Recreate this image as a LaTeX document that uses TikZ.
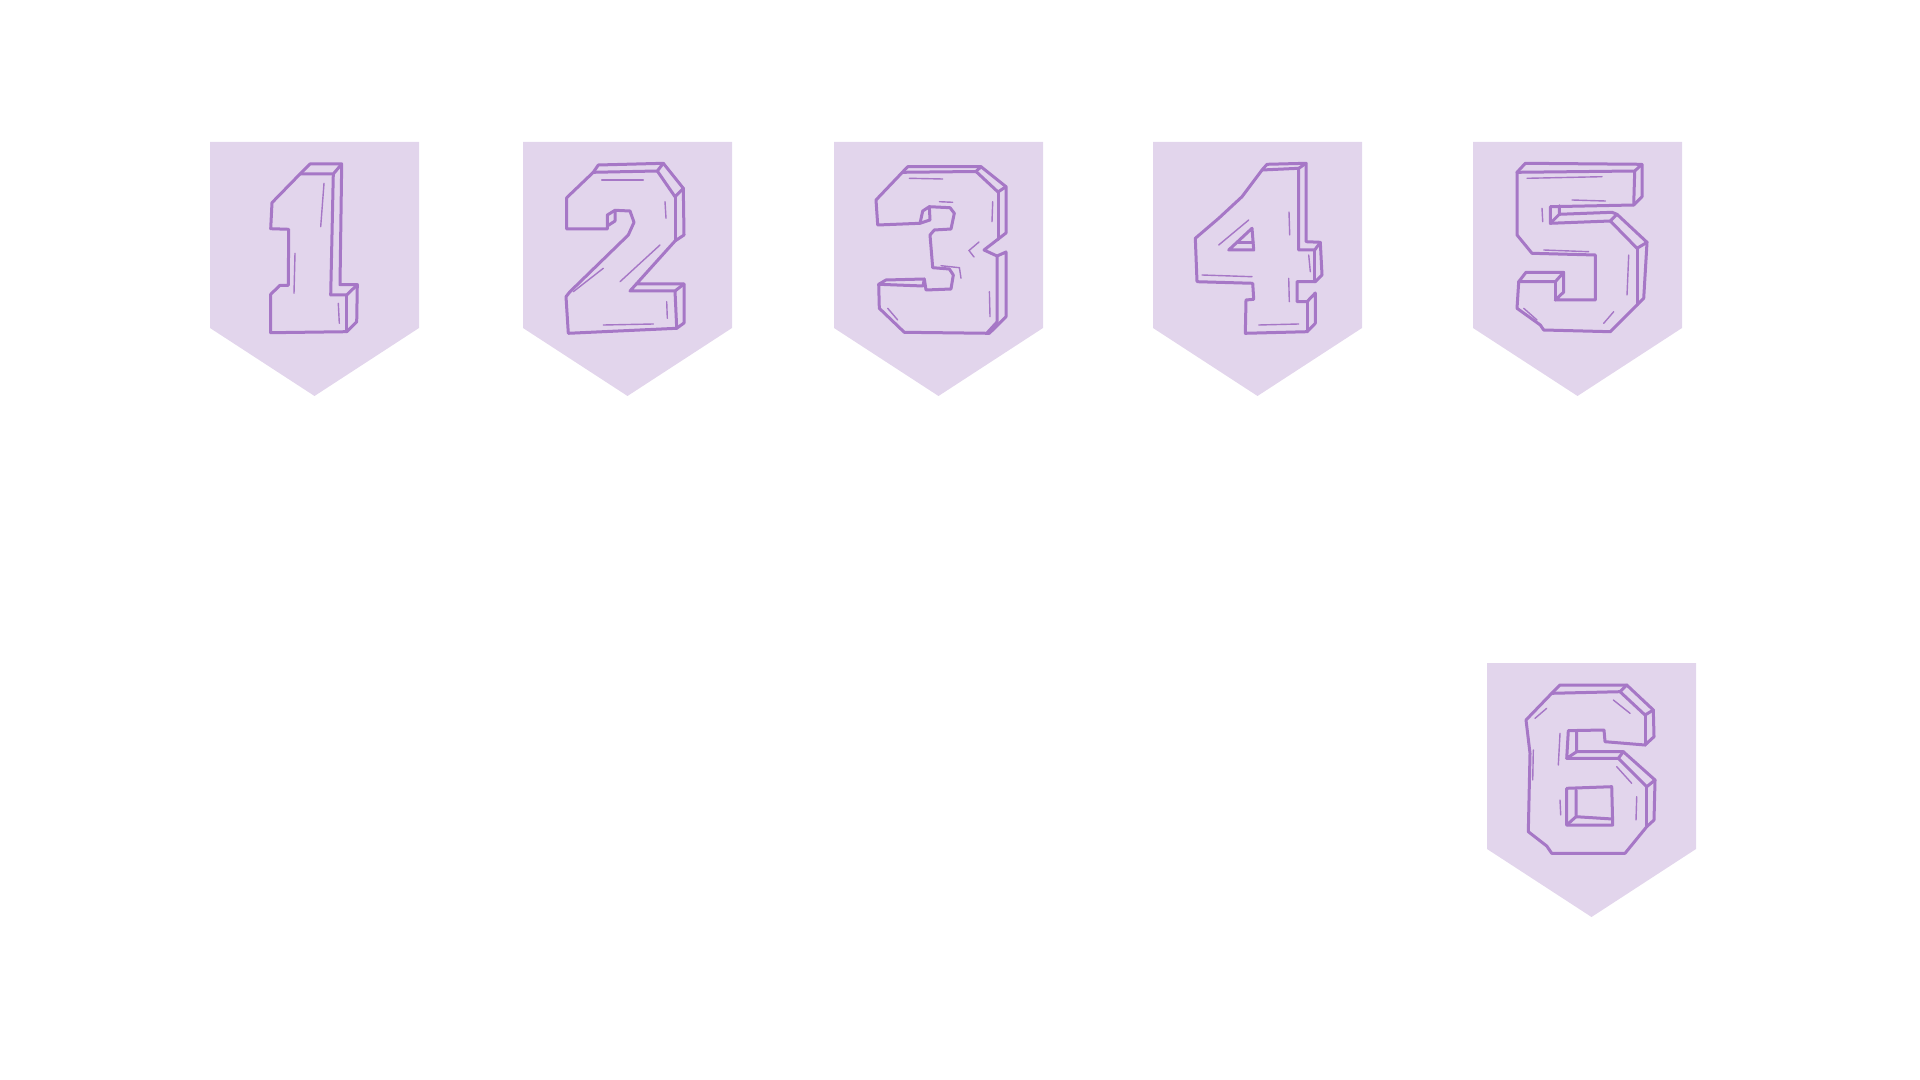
\documentclass[tikz,border=0pt]{standalone}
\definecolor{flagfill}{HTML}{E2D5EC}
\definecolor{inkline}{HTML}{A677C6}
\tikzset{
  flag/.style={fill=flagfill},
  digit/.style={draw=inkline, line width=1.5pt, line join=round, line cap=round},
  hatch/.style={draw=inkline, line width=0.7pt, line cap=round},
}
\begin{document}
\begin{tikzpicture}[x=0.5pt,y=-0.5pt]
\useasboundingbox (0,0) rectangle (1920,1080);
\foreach \l/\t in {210/142,523/142,834/142,1153/142,1473/142,1487/663}
  \fill[flag] (\l,\t) -- ++(209,0) -- ++(0,186) -- ++(-104.5,68) -- ++(-104.5,-68) -- cycle;
\begin{scope}[shift={(210,142)}]
\draw[digit] (60.7,190.7) -- (60.7,152.3) -- (70,143.3) -- (78.3,143.3) -- (78.7,87.3) -- (60.7,86.7) -- (62,60.7) -- (90,32) -- (100,22) -- (131.7,22) -- (130,142.7) -- (147.3,142.7) -- (146.7,179.7) -- (136.7,189.7) -- cycle;
\draw[digit] (90,32) -- (123.3,32) -- (131.7,22);
\draw[digit] (123.3,32) -- (120.7,153) -- (136.7,153) -- (147.3,142.7);
\draw[digit] (136.7,153) -- (136.7,189.7);
\draw[hatch] (85,111.3) -- (84,151.3);
\draw[hatch] (114,41.3) -- (110.7,84.7);
\draw[hatch] (128.3,161.3) -- (129.3,181.3);
\end{scope}
\begin{scope}[shift={(523,142)}]
\draw[digit] (43.7,55.7) -- (70.3,30.3) -- (75.3,23) -- (140.3,21.3) -- (160.3,46.3) -- (161,93) -- (152,99) -- (113.3,142) -- (161,142) -- (161,181) -- (153.7,186.3) -- (45.3,191.3) -- (43,154.7) -- (47,149.7) -- (105.3,93) -- (111,80.3) -- (107,69) -- (92,68.3) -- (84.3,73) -- (84.3,87) -- (43.7,87) -- cycle;
\draw[digit] (70.3,30.3) -- (134.3,29) -- (140.3,21.3);
\draw[digit] (134.3,29) -- (152,54.7) -- (160.3,46.3);
\draw[digit] (152,54.7) -- (152,99);
\draw[digit] (113.3,142) -- (107,149) -- (152,149) -- (161,142);
\draw[digit] (152,149) -- (153.7,186.3);
\draw[digit] (92,68.3) -- (92,79) -- (84.3,84);
\draw[hatch] (78.7,38) -- (120.3,38);
\draw[hatch] (142,59.7) -- (143,76.3);
\draw[hatch] (97,139.7) -- (137,103);
\draw[hatch] (50.3,149.7) -- (80.3,126.3);
\draw[hatch] (80.3,183) -- (130.3,182);
\draw[hatch] (143.7,159.7) -- (144.3,176.3);
\end{scope}
\begin{scope}[shift={(834,142)}]
\draw[digit] (42,58) -- (73.7,24.7) -- (147,24.7) -- (172,44.7) -- (172,91) -- (150,108) -- (163,114) -- (172,110) -- (172,174.7) -- (155.3,191.3) -- (70.3,190.3) -- (45.3,166.3) -- (44.7,142.3) -- (52,138) -- (90.3,137) -- (92,148) -- (117,147) -- (119.3,133) -- (115.3,127) -- (98.7,125.7) -- (96,93) -- (100.3,88) -- (117,87) -- (120.3,71.3) -- (116,65.7) -- (95.3,64.7) -- (88.7,69) -- (86,81.3) -- (43.7,83) -- cycle;
\draw[digit] (68.4,30.3) -- (142,29.5) -- (147,24.7);
\draw[digit] (142,29.5) -- (164,50) -- (172,44.7);
\draw[digit] (164,50) -- (164,97.5);
\draw[digit] (163,114) -- (163,180) -- (153,191);
\draw[digit] (44.7,142.3) -- (89,144) -- (90.3,137);
\draw[digit] (95.3,64.7) -- (96,78) -- (86,81.3);
\draw[hatch] (75.4,36.3) -- (108.7,37);
\draw[hatch] (105.4,59.7) -- (118.7,60.3);
\draw[hatch] (158.7,59.7) -- (158,79.7);
\draw[hatch] (145,100) -- (135,108.5) -- (140,115);
\draw[hatch] (155.4,149.7) -- (156,174.7);
\draw[hatch] (53.7,166.3) -- (63.7,178);
\draw[hatch] (107,123.7) -- (125.4,125.7) -- (127,136.3);
\end{scope}
\begin{scope}[shift={(1153,142)}]
\draw[digit] (42.3,96.3) -- (65.7,76.3) -- (89,54.7) -- (109,28) -- (114,22.3) -- (153,21.3) -- (153,99.7) -- (167.3,100.3) -- (169,133) -- (162.3,139.7) -- (144,139.7) -- (144,159.7) -- (154,159.7) -- (162.3,151) -- (162.3,181.3) -- (154,189.7) -- (92.3,191.3) -- (93,158) -- (100.7,157.3) -- (99.7,141.3) -- (44,139.7) -- cycle;
\draw[digit] (109,28) -- (145.7,26.3) -- (153,21.3);
\draw[digit] (145.7,26.3) -- (145.7,108) -- (161.7,108) -- (167.3,100.3);
\draw[digit] (161.7,108) -- (161.7,139.7);
\draw[digit] (154,159.7) -- (154,189.7);
\draw[digit] (75.7,108) -- (100.7,108) -- (99,86.3) -- cycle;
\draw[digit] (85,101) -- (100,101);
\draw[hatch] (49,133) -- (99,134.7);
\draw[hatch] (65.7,103) -- (95.7,78);
\draw[hatch] (136,70) -- (136.7,93);
\draw[hatch] (155.7,113) -- (157.3,129.7);
\draw[hatch] (135.7,136.3) -- (136.3,159.7);
\draw[hatch] (105.7,183) -- (145.7,182);
\end{scope}
\begin{scope}[shift={(1473,142)}]
\draw[digit] (44,30.3) -- (52.3,21.3) -- (169,22.3) -- (169,54.7) -- (160.7,63) -- (77.3,64.7) -- (77.3,81.3) -- (137.3,79) -- (144,72.3) -- (174,100.3) -- (170.7,156.3) -- (164,163) -- (137.3,189.7) -- (70.7,188) -- (67.3,183) -- (44,166.3) -- (45.7,139.7) -- (53,130.3) -- (90.7,130.3) -- (90.7,150) -- (82.3,158) -- (122.3,158) -- (122.3,113) -- (59,111.3) -- (44,93) -- cycle;
\draw[digit] (44,30.3) -- (161.7,29) -- (169,22.3);
\draw[digit] (161.7,29) -- (160.7,63);
\draw[digit] (86.3,63.7) -- (86.3,72.3) -- (77.3,81.3);
\draw[digit] (86.3,72.3) -- (139,70.3) -- (144,72.3);
\draw[digit] (137.3,79) -- (164,106.3) -- (174,100.3);
\draw[digit] (164,106.3) -- (164,163);
\draw[digit] (45.7,139.7) -- (82.3,139.7) -- (90.7,130.3);
\draw[digit] (82.3,139.7) -- (82.3,158);
\draw[hatch] (54,36.3) -- (129,34.7);
\draw[hatch] (99,58) -- (132.3,59);
\draw[hatch] (69,66.3) -- (69.7,79.7);
\draw[hatch] (70.7,108) -- (115.7,109.7);
\draw[hatch] (155.7,113) -- (154,153);
\draw[hatch] (50.7,166.3) -- (64,178);
\draw[hatch] (130.7,181.3) -- (140.7,169.7);
\end{scope}
\begin{scope}[shift={(1487,663)}]
\draw[digit] (39,57) -- (64.7,30.3) -- (73,22) -- (139.7,22) -- (166.3,47) -- (167,73.7) -- (158,82) -- (118,78.7) -- (117,67) -- (89.7,67.5) -- (89.7,88.7) -- (136.3,88.7) -- (168,117) -- (167,157) -- (159.7,163.7) -- (138,190.3) -- (64.7,190.3) -- (59.7,183) -- (41.3,168.7) -- (43,90.3) -- cycle;
\draw[digit] (64.7,30.3) -- (133,28.7) -- (139.7,22);
\draw[digit] (133,28.7) -- (158,52) -- (166.3,47);
\draw[digit] (158,52) -- (158,82);
\draw[digit] (89.7,67.5) -- (81.3,67.7) -- (79.7,95.3) -- (89.7,88.7);
\draw[digit] (79.7,95.3) -- (131.3,95.3) -- (136.3,88.7);
\draw[digit] (131.3,95.3) -- (159.7,123.7) -- (168,117);
\draw[digit] (159.7,123.7) -- (159.7,163.7);
\draw[digit] (79.7,125.3) -- (124.7,123.7) -- (125.7,162) -- (79.7,162) -- cycle;
\draw[digit] (89,127) -- (89,153.7) -- (79.7,162);
\draw[digit] (89,153.7) -- (125.5,156);
\draw[hatch] (48,55.3) -- (59.7,45.3);
\draw[hatch] (126.3,37) -- (143,50.3);
\draw[hatch] (46.3,87) -- (45.7,117);
\draw[hatch] (73,70.3) -- (71.3,102);
\draw[hatch] (73,137) -- (73.7,152);
\draw[hatch] (129.7,103.7) -- (144.7,120.3);
\draw[hatch] (149.7,133.7) -- (149,157);
\end{scope}
\end{tikzpicture}
\end{document}
